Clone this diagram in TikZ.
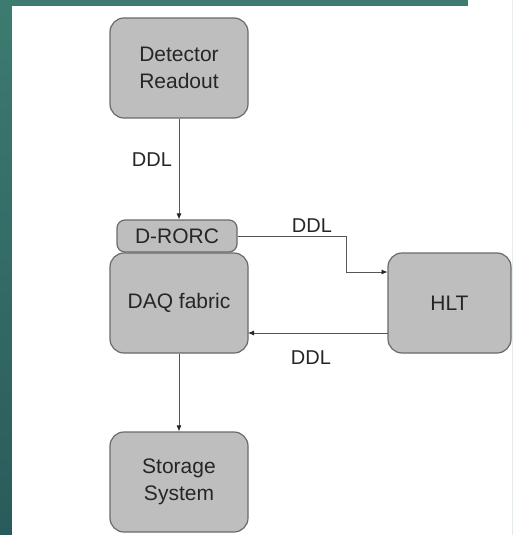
\documentclass[tikz,border=0pt]{standalone}
\usepackage{fontspec}
\setmainfont{Liberation Sans}
\usetikzlibrary{arrows.meta}
\definecolor{teal1}{HTML}{3D7B70}
\definecolor{teal2}{HTML}{2A5B5C}
\definecolor{boxfill}{HTML}{BEBEBE}
\definecolor{boxline}{HTML}{6A6A6A}
\definecolor{txt}{HTML}{262626}
\definecolor{wire}{HTML}{555555}
\tikzset{
  blk/.style={draw=boxline, line width=1.2pt, fill=boxfill, rounded corners=14pt,
    text=txt, align=center, font=\fontsize{21}{27}\selectfont, inner sep=0pt},
  lbl/.style={text=txt, font=\fontsize{20}{24}\selectfont, inner sep=0pt},
  wireline/.style={draw=wire, line width=0.8pt, -{Latex[length=6pt,width=5pt,color=black!85]}}
}
\begin{document}
\begin{tikzpicture}[x=1pt,y=-1pt]
\useasboundingbox (0,0) rectangle (512,535);
\shade[top color=teal1, bottom color=teal2] (0,0) rectangle (512,535);
\fill[white] (12,6) rectangle (512,535);
\fill[white] (468,0) rectangle (512,6);
\node[blk, minimum width=138pt, minimum height=100pt] (det) at (179,68) {Detector\\Readout};
\node[blk, minimum width=138pt, minimum height=100pt] (daq) at (179,303) {DAQ fabric};
\node[blk, minimum width=120pt, minimum height=32pt, rounded corners=8pt] (rorc) at (177,236) {D-RORC};
\node[blk, minimum width=123pt, minimum height=100pt] (hlt) at (449.5,303) {HLT};
\node[blk, minimum width=138pt, minimum height=100pt] (sto) at (179,482) {Storage\\System};
\coordinate (c1) at (346,236);
\coordinate (c2) at (346,272);
\coordinate (h1) at (387.5,272);
\coordinate (h2) at (387.5,333);
\coordinate (d2) at (248,333);
\draw[wireline] (det.south) -- (det.south |- rorc.north);
\draw[wireline] (rorc.east) -- (c1) -- (c2) -- (h1);
\draw[wireline] (h2) -- (d2);
\draw[wireline] (daq.south) -- (sto.north);
\node[lbl] (l1) at (152,160) {DDL};
\node[lbl] (l2) at (312,226) {DDL};
\node[lbl] (l3) at (311,358) {DDL};
\end{tikzpicture}
\end{document}
